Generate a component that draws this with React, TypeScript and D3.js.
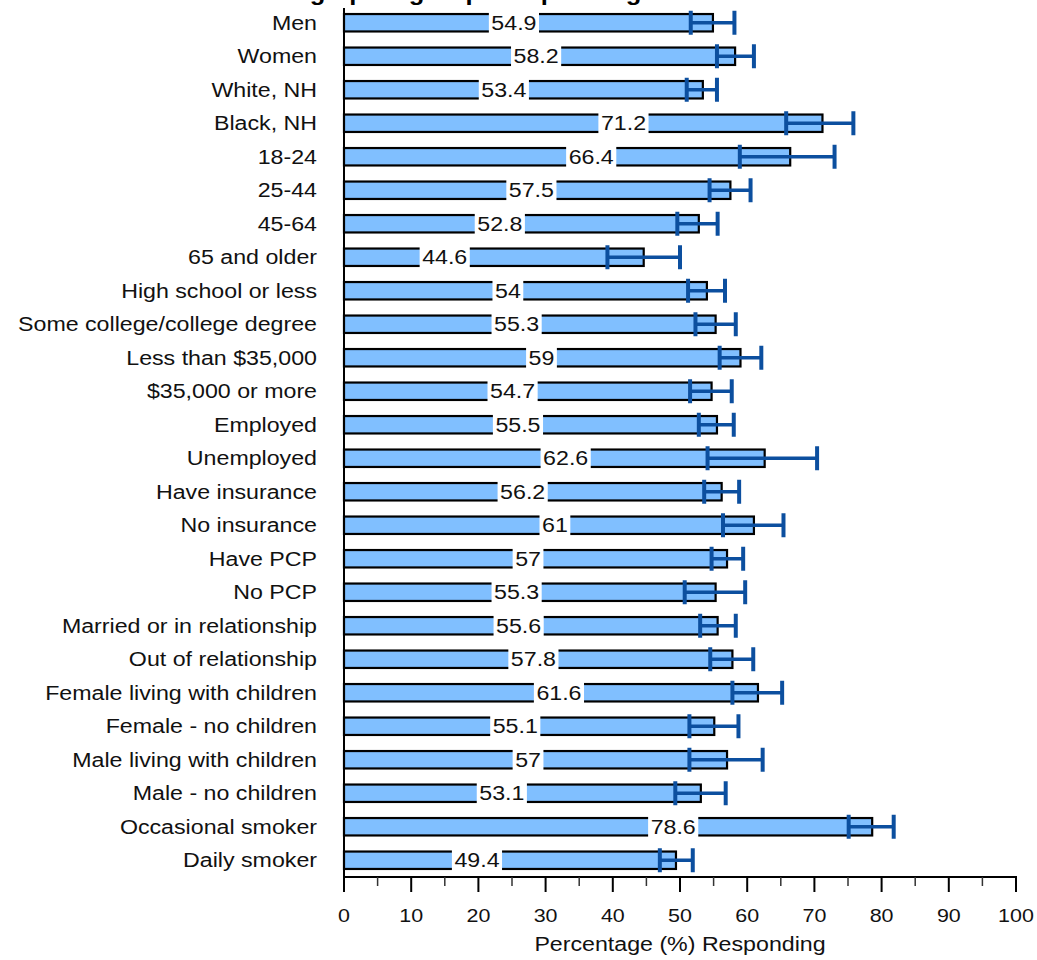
import React from "react";
import * as d3 from "d3";

const categories = [
  "Men", "Women", "White, NH", "Black, NH", "18-24", "25-44", "45-64", "65 and older",
  "High school or less", "Some college/college degree", "Less than $35,000", "$35,000 or more",
  "Employed", "Unemployed", "Have insurance", "No insurance", "Have PCP", "No PCP",
  "Married or in relationship", "Out of relationship", "Female living with children",
  "Female - no children", "Male living with children", "Male - no children",
  "Occasional smoker", "Daily smoker",
];
const values = [
  54.9, 58.2, 53.4, 71.2, 66.4, 57.5, 52.8, 44.6, 54, 55.3, 59, 54.7, 55.5, 62.6, 56.2, 61,
  57, 55.3, 55.6, 57.8, 61.6, 55.1, 57, 53.1, 78.6, 49.4,
];
const ciLower = [
  51.6, 55.5, 51.0, 65.8, 58.9, 54.4, 49.6, 39.2, 51.2, 52.3, 55.9, 51.5, 52.8, 54.1, 53.6, 56.4,
  54.7, 50.7, 53.0, 54.5, 57.8, 51.4, 51.4, 49.3, 75.1, 47.0,
];
const ciUpper = [
  58.1, 61.0, 55.5, 75.8, 73.0, 60.5, 55.6, 50.0, 56.7, 58.3, 62.1, 57.7, 58.0, 70.4, 58.8, 65.4,
  59.4, 59.7, 58.3, 60.9, 65.2, 58.7, 62.3, 56.8, 81.8, 51.9,
];
const xTicks = [0, 10, 20, 30, 40, 50, 60, 70, 80, 90, 100];
const xMinorTicks = [5, 15, 25, 35, 45, 55, 65, 75, 85, 95];
const titleText = "Demographic groups responding";
const xAxisTitle = "Percentage (%) Responding";

const W = 1037;
const H = 960;
const SX = 1.16;
const FONT = "'Liberation Sans', Arial, sans-serif";
const BAR_FILL = "#80bfff";
const ERR = "#0c4f9f";

function textWidth(s: string, size: number) {
  let w = 0;
  for (const ch of s) w += ch === "." ? 0.278 : 0.556;
  return w * size * SX;
}

export default function App() {
  const x = d3.scaleLinear().domain([0, 100]).range([344, 1016]);
  const y = d3
    .scaleBand<string>()
    .domain(categories)
    .range([6, 877])
    .paddingInner(0.48)
    .paddingOuter(0.24);
  const bw = y.bandwidth();
  const axisY = 877;

  return (
    <svg
      width={W}
      height={H}
      style={{ position: "absolute", left: 0, top: 0, background: "#fff" }}
      fontFamily={FONT}
    >
      <rect x={0} y={0} width={W} height={H} fill="#fff" />
      <text
        transform={`translate(440,0) scale(${SX},1)`}
        textAnchor="middle"
        fontSize={22}
        fontWeight="bold"
        fill="#000"
      >
        {titleText}
      </text>

      {categories.map((c, i) => {
        const yc = (y(c) as number) + bw / 2;
        const v = values[i];
        const label = String(v);
        const lx = x(v) - 199;
        const lw = textWidth(label, 20) + 5;
        return (
          <g key={c}>
            <text
              transform={`translate(317,${yc + 7}) scale(${SX},1)`}
              textAnchor="end"
              fontSize={20}
              fill="#111"
            >
              {c}
            </text>
            <rect
              x={x(0)}
              y={y(c) as number}
              width={x(v) - x(0)}
              height={bw}
              fill={BAR_FILL}
              stroke="#000"
              strokeWidth={2.2}
            />
            <rect x={lx - lw / 2} y={(y(c) as number) - 2} width={lw} height={bw + 4} fill="#fff" />
            <text
              transform={`translate(${lx},${yc + 7}) scale(${SX},1)`}
              textAnchor="middle"
              fontSize={20}
              fill="#111"
            >
              {label}
            </text>
            <line x1={x(ciLower[i])} x2={x(ciUpper[i])} y1={yc} y2={yc} stroke={ERR} strokeWidth={3.5} />
            <line x1={x(ciLower[i])} x2={x(ciLower[i])} y1={yc - 12} y2={yc + 12} stroke={ERR} strokeWidth={4} />
            <line x1={x(ciUpper[i])} x2={x(ciUpper[i])} y1={yc - 12} y2={yc + 12} stroke={ERR} strokeWidth={4} />
          </g>
        );
      })}

      {/* axes */}
      <line x1={x(0)} x2={x(0)} y1={8} y2={axisY} stroke="#000" strokeWidth={2} />
      <line x1={x(0) - 1} x2={x(100) + 1} y1={axisY} y2={axisY} stroke="#000" strokeWidth={2} />
      {xMinorTicks.map((t) => (
        <line key={"m" + t} x1={x(t)} x2={x(t)} y1={axisY} y2={axisY + 9} stroke="#333" strokeWidth={1.5} />
      ))}
      {xTicks.map((t) => (
        <g key={t}>
          <line x1={x(t)} x2={x(t)} y1={axisY} y2={axisY + 15} stroke="#000" strokeWidth={2} />
          <text
            transform={`translate(${x(t)},${axisY + 45}) scale(${SX},1)`}
            textAnchor="middle"
            fontSize={18.5}
            fill="#111"
          >
            {t}
          </text>
        </g>
      ))}
      <text
        transform={`translate(${x(50)},951) scale(${SX},1)`}
        textAnchor="middle"
        fontSize={20}
        fill="#111"
      >
        {xAxisTitle}
      </text>
    </svg>
  );
}
